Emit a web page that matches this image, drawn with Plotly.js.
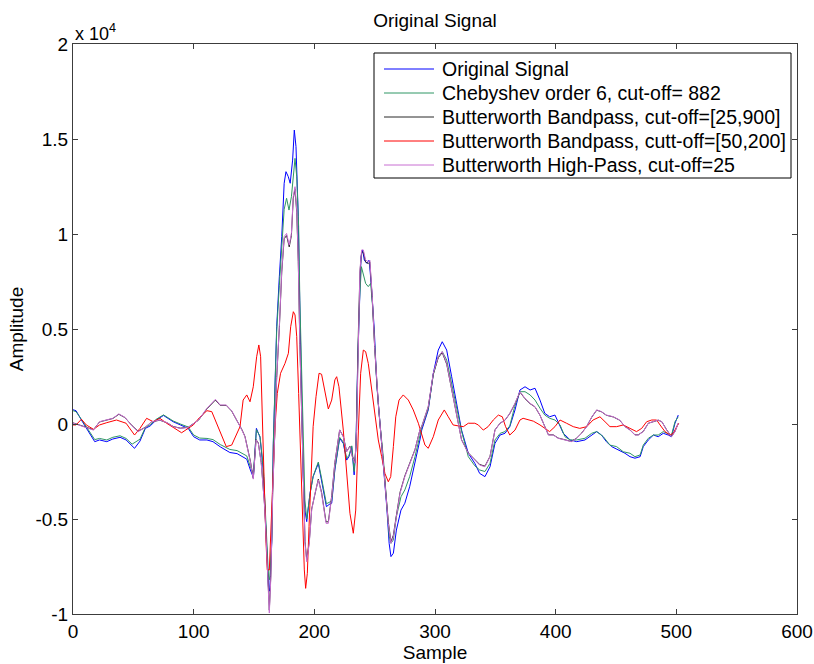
<!DOCTYPE html>
<html>
<head>
<meta charset="utf-8">
<script src="https://cdn.plot.ly/plotly-3.0.1.min.js"></script>
<style>html,body{margin:0;padding:0;background:#fff;}#chart{width:814px;height:664px;}</style>
</head>
<body>
<div id="chart"></div>
<script>
// ---- Data ----
const origX = [0,2.5,8,14,18,22,28,33,39,44,49,51,55.5,60,64,69,75,79,83,89,95.5,100,105,111,116,122,126,130,136,140,144,147,149.5,152,155,157.7,160,162,163,164.7,166,167.4,168.8,171,173,175,176.5,178.4,180,182,183.4,184.8,186.7,187.5,188.7,189.8,190.8,192.2,193.7,196.4,199,203.3,206,210,213,214.4,217,221,224,226.8,228.7,231,233,234.5,235.9,237.3,238.7,240,241.4,243.4,245.5,247.5,249.7,251.7,254.4,257,260,262,263.5,265.5,268,271.8,275,279,283.4,287.5,289,294.4,298.6,302.7,306,309.7,313.8,318,322,327.6,333,337,341.4,345.6,349.7,353.9,358,362,366.3,370.4,374.6,378.8,382.9,387,391,395,399.4,402,406.3,412,417.4,424.3,429.8,434,438,442,446.4,452,457.4,461.6,465.7,470,472.6,476.8,481,485,489.2,493.3,496,498.9,501.6];
const origY = [750,700,100,-490,-930,-840,-930,-790,-700,-840,-1160,-1280,-900,-230,-100,210,450,300,120,-50,-230,-670,-840,-840,-930,-1200,-1370,-1500,-1560,-1720,-1850,-2420,-2820,-230,-700,-2420,-5400,-8600,-8800,-6280,-1020,2490,5120,7750,9860,12670,13280,13020,12670,13890,15470,14600,10910,7750,4250,740,-2770,-4530,-5140,-3650,-2770,-2070,-2950,-4350,-4200,-4170,-2420,-750,-1020,-1900,-1720,-1190,-2680,-1190,3190,6700,8810,9160,8630,8460,8630,7050,4950,2140,40,-1720,-4350,-6280,-6980,-6800,-5580,-4530,-4170,-3300,-2070,-840,-320,740,2670,3890,4330,3890,2490,1090,-320,-1540,-2070,-2600,-2770,-2250,-1020,-580,-490,-140,740,1790,1960,1790,1880,1260,560,380,470,120,-490,-840,-930,-840,-580,-400,-580,-930,-1190,-1370,-1540,-1720,-1800,-1720,-1190,-840,-580,-670,-490,-580,-670,40,470];

const chebX = [0,2.5,8,14,18,22,28,33,39,44,49,55.5,60,64,69,75,79,83,89,95.5,100,105,111,116,122,126,130,136,140,144,147,149.5,152,155,157.7,160,162,163,164.7,166,167.4,168.8,171,173,175,177,179,181,182.5,184,185.4,187,188,189.5,190.8,192.2,193.7,196.4,199,203.3,206,210,213,214.4,217,221,224,226.8,228.7,231,233,234.5,235.9,237.3,239,240.6,242.5,244.7,246.7,248.3,250,252,254.4,257,260,262,263.5,265.5,268,271.8,275,279,283.4,287.5,289,294.4,298.6,302.7,306,309.7,313.8,318,322,327.6,333,337,341.4,345.6,349.7,354,358,362,366,370.4,374.6,378.8,382.9,387,391,395,399.4,403.6,407.7,412,417.4,424.3,429.8,434,439.5,445,450.5,456,461.6,465.7,470,472.6,476.8,481,485,489.2,493.3,496,498.9,501.6];
const chebY = [700,650,150,-400,-820,-760,-840,-700,-620,-760,-1060,-800,-180,-40,250,480,340,160,0,-160,-580,-740,-760,-820,-1080,-1220,-1340,-1400,-1560,-1680,-2250,-2650,-300,-650,-2300,-5200,-8000,-8200,-6100,-1100,2300,4900,7300,9200,11300,11880,11260,11960,13200,13980,13020,10380,6500,2500,-1200,-4000,-5000,-3700,-2750,-2000,-2850,-4200,-4100,-4050,-2350,-700,-950,-1800,-1650,-1150,-2500,-1150,3000,6300,8280,7930,7400,7230,7400,6170,4300,1900,0,-1650,-4200,-5900,-6280,-6100,-4880,-3830,-3470,-2770,-1720,-600,-200,800,2600,3540,3810,3370,2140,900,-380,-1720,-2200,-2420,-2500,-2070,-840,-490,-400,-100,910,1700,1700,1530,1260,830,470,300,210,-50,-670,-840,-840,-750,-490,-400,-670,-1110,-1190,-1460,-1540,-1720,-1630,-1110,-750,-580,-580,-400,-490,-580,120,380];

const bpX = [0,5,11,17,22,28,33,38,43,49,54,60,65,72,78,83,89,95.5,104,111,118,122,127,131.5,136,140,142.5,147,149.4,151.7,153.6,156,159,161,162.7,164,165.5,167.4,168.8,171,173,175,177,179.2,181,182.5,184,185.4,186.7,188,189.5,190.8,192.3,193.7,195.8,197.8,200.5,203.3,206,209.7,211.6,214.4,217,221,224,226.8,229.5,231.5,233.7,235,236.5,237.8,239.2,240.6,242.5,244.7,246,248,250,253,255.8,258.5,261.3,263.5,265.5,268,271,275,279,283.4,287.5,289,294.4,298.6,302.7,306,309.7,313.8,318,322,327.6,333,337,341.4,345.6,349.7,353.9,358,362,366.3,370.4,374.6,378.8,382.9,387,391,394,398,402,407.7,413,417.4,421.5,425.7,430,434,438,442,447.8,453,457.4,461.6,465.7,468.5,472.6,476.8,481,485,488,492,496,498.9,501.6];
const bpY = [60,-40,-170,-300,110,200,290,510,340,-90,-380,-170,110,200,60,-130,-220,-170,200,800,1260,980,980,680,190,-300,-650,-1950,-2850,-820,-1000,-2030,-4450,-7900,-9800,-7900,-3600,-150,2450,5050,8000,9750,9920,9320,9920,11850,12380,11150,8550,4200,720,-2720,-6200,-7150,-6200,-4470,-3600,-2900,-3600,-5150,-5150,-3780,-2040,-310,-660,-1440,-1170,-1700,-2040,-310,4880,8000,9050,9050,8530,8440,8530,6620,4020,1070,-1000,-3080,-5150,-6200,-5850,-4810,-3600,-2730,-2040,-1350,-310,-130,900,2630,3490,3760,3150,1760,370,-830,-1520,-1870,-2130,-2220,-1700,-310,40,200,550,1070,1680,1330,1070,900,460,-130,-570,-570,-740,-830,-920,-740,-480,-130,370,730,640,460,370,200,-130,-310,-570,-570,-390,40,120,200,120,-310,-660,-390,40];

const bp2X = [0,2.5,7,11,17,22,28,36,44,51,55.5,61,66.5,72,77.6,84.5,90,95.5,99.7,105,111,115,119,123,127,131.5,136,138.4,141,144,146.7,149.4,152.2,154,155.5,157,158.3,160,161,162.7,164,165.5,167.4,169.3,172,175.7,178.5,180.4,182.6,184,185.4,187,188.7,190.4,191.7,192.8,194.2,195.6,197,199,201.4,203.9,206,208.8,211.6,214.4,217,218.5,220.4,224,226.8,229.5,232.3,234.3,236.5,238.4,240.6,242.5,244.7,247.5,250.3,253,255.8,258.5,261.3,263.3,265.5,267.5,270.2,273.7,277.9,282,286.2,291.7,294.4,298.6,302.7,307.7,311,315,319.3,323.5,327.6,333,335.9,340,344,348.3,352.5,355.8,358.5,362,366.3,370.4,373,376,381.5,387,391,395,399.4,403.6,409,414.6,420,425.7,431,436.7,440.9,445,450.5,456,461.6,467,471.3,475.4,479.6,483.7,486.5,490.6,494.7,497.5,500.3,502];
const bp2Y = [-50,-50,250,-50,-280,-50,70,210,40,-580,-230,300,120,300,40,-230,-460,-230,-50,350,700,650,40,-670,-1190,-1110,-490,-140,1260,1530,1170,1960,3540,4160,3540,740,-2770,-6280,-7680,-7680,-5400,-2770,-140,1610,2670,3190,3720,5120,5910,5740,4600,1610,-1900,-4530,-7680,-8650,-7860,-5400,-2770,-140,1440,2670,2620,1750,790,1260,2320,2490,1960,-320,-2420,-4700,-5750,-4530,-320,2670,3890,3810,3190,1790,380,-840,-1720,-2600,-3040,-2770,-1190,380,1260,1530,1260,740,40,-1110,-1280,-670,210,740,380,-50,-100,-140,40,40,-50,-320,-140,210,470,380,-140,-580,-320,210,300,250,150,-50,-230,-400,-140,210,40,-140,-230,-140,210,380,120,-140,-140,-50,-230,-400,-230,120,210,210,-50,-400,-580,-490,-140,40];

const hpX = bpX;
const hpY = [50,-50,-180,-320,120,210,300,530,350,-100,-400,-180,120,210,70,-140,-230,-180,210,830,1300,1000,1000,700,200,-320,-670,-2000,-2900,-840,-1020,-2070,-4530,-8030,-9950,-8030,-3650,-140,2490,5120,8100,9860,10030,9420,10030,11960,12490,11260,8630,4250,740,-2770,-6280,-7250,-6280,-4530,-3650,-2950,-3650,-5230,-5230,-3830,-2070,-320,-670,-1460,-1190,-1720,-2070,-320,4950,8100,9160,9160,8630,8540,8630,6700,4070,1090,-1020,-3120,-5230,-6280,-5930,-4880,-3650,-2770,-2070,-1370,-320,-140,910,2670,3540,3810,3190,1790,380,-840,-1540,-1900,-2160,-2250,-1720,-320,40,210,560,1090,1700,1350,1090,910,470,-140,-580,-580,-750,-840,-930,-750,-490,-140,380,740,650,470,380,210,-140,-320,-580,-580,-400,40,120,210,120,-320,-670,-400,40];

const seriesNames = ['Original Signal','Chebyshev order 6, cut-off= 882','Butterworth Bandpass, cut-off=[25,900]','Butterworth Bandpass, cutt-off=[50,200]','Butterworth High-Pass, cut-off=25'];
const seriesColors = ['rgb(0,0,255)','rgb(46,150,100)','rgb(40,40,40)','rgb(255,0,0)','rgb(200,110,210)'];
const yTickVals = [-10000,-5000,0,5000,10000,15000,20000];
const yTickText = ['-1','-0.5','0','0.5','1','1.5','2'];
const xTickVals = [0,100,200,300,400,500,600];

const xs = [origX, chebX, bpX, bp2X, hpX];
const ys = [origY, chebY, bpY, bp2Y, hpY];
const traces = xs.map((x,i)=>({
  x: x, y: ys[i], type:'scatter', mode:'lines', name: seriesNames[i],
  line:{color: seriesColors[i], width:1}, showlegend:false
}));

// ---- Layout geometry (px) ----
const W = 814, H = 664, ML = 73, MR = 17, MT = 44, MB = 50;
const PW = W - ML - MR, PH = H - MT - MB;
const px2x = p => (p - ML) / PW;
const px2y = p => (H - MB - p) / PH;

const FONT = 'Liberation Sans, Arial, Helvetica, sans-serif';

// Legend drawn as a box with line samples and text labels
const LG = {left:374, right:791, top:53, bottom:178, lineX0:384, lineX1:434, textX:440, firstRow:69, rowGap:24};
const shapes = [{type:'rect', xref:'paper', yref:'paper', x0:px2x(LG.left), x1:px2x(LG.right), y0:px2y(LG.bottom), y1:px2y(LG.top),
  line:{color:'#000', width:1}, fillcolor:'#fff', layer:'above'}];
const annotations = [{xref:'paper', yref:'paper', x:0, y:1, xanchor:'left', yanchor:'bottom', showarrow:false,
    text:'x 10<sup>4</sup>', font:{family:FONT, size:18, color:'#000'}, xshift:0, yshift:-2}];
seriesNames.forEach((nm,i)=>{
  const yy = px2y(LG.firstRow + LG.rowGap*i);
  shapes.push({type:'line', xref:'paper', yref:'paper', x0:px2x(LG.lineX0), x1:px2x(LG.lineX1), y0:yy, y1:yy,
    line:{color:seriesColors[i], width:1}, layer:'above'});
  annotations.push({xref:'paper', yref:'paper', x:px2x(LG.textX), y:yy, xanchor:'left', yanchor:'middle', showarrow:false,
    text:nm, font:{family:FONT, size:19.5, color:'#000'}});
});

const axisCommon = {
  showgrid:false, zeroline:false, showline:true, linecolor:'rgb(60,60,60)', linewidth:1,
  mirror:'ticks', ticks:'inside', ticklen:5, tickcolor:'rgb(60,60,60)',
  tickfont:{family:FONT, size:19, color:'#000'}
};
const layout = {
  width:W, height:H,
  margin:{l:ML, r:MR, t:MT, b:MB},
  paper_bgcolor:'#fff', plot_bgcolor:'#fff',
  font:{family:FONT, size:18, color:'#000'},
  title:{text:'Original Signal', font:{family:FONT, size:19, color:'#000'}, x:px2x(435)*PW/W + ML/W, xanchor:'center', y:0.97, yanchor:'middle'},
  xaxis: Object.assign({}, axisCommon, {range:[0,600], tickvals:xTickVals, title:{text:'Sample', font:{family:FONT, size:19}, standoff:2}}),
  yaxis: Object.assign({}, axisCommon, {range:[-10000,20000], tickvals:yTickVals, ticktext:yTickText, title:{text:'Amplitude', font:{family:FONT, size:19}, standoff:6}}),
  showlegend:false,
  shapes: shapes,
  annotations: annotations
};
Plotly.newPlot('chart', traces, layout, {displayModeBar:false, staticPlot:true});
</script>
</body>
</html>
